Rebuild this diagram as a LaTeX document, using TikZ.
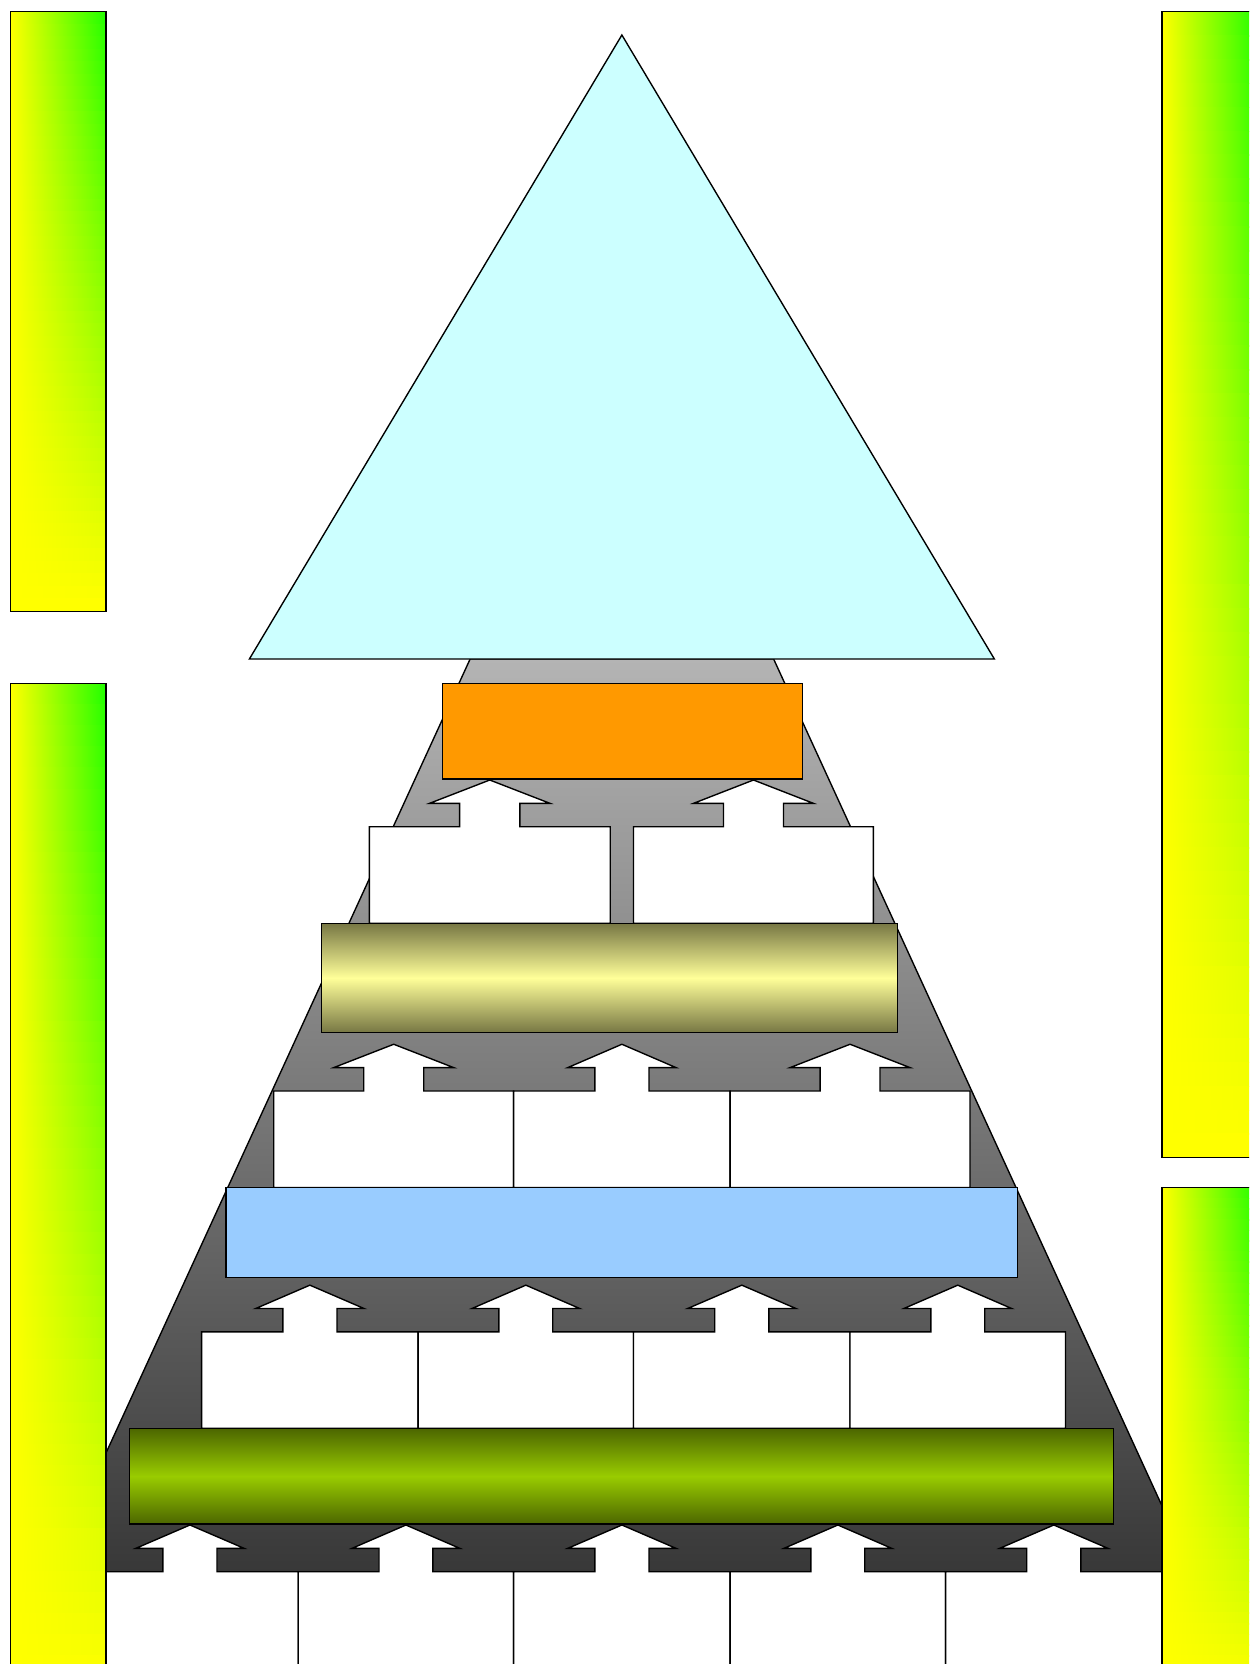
\documentclass[tikz,border=0pt]{standalone}
\definecolor{cyanT}{HTML}{CCFFFF}
\definecolor{orangeB}{HTML}{FF9900}
\definecolor{blueB}{HTML}{99CCFF}
\definecolor{yelDark}{HTML}{777744}
\definecolor{yelLight}{HTML}{FFFF99}
\definecolor{grnDark}{HTML}{4C6600}
\definecolor{grnLight}{HTML}{99CC00}
\definecolor{grayTop}{HTML}{B4B4B4}
\definecolor{grayBot}{HTML}{383838}
\definecolor{barGreen}{HTML}{22FF00}
\tikzset{
  outl/.style={draw=black, line width=1.3pt, line join=miter},
  boxst/.style={outl, fill=white},
}
\newcommand\arrowbox[4]{% L R T B
  \pgfmathsetmacro\cx{(#1+#2)/2}
  \pgfmathsetmacro\sw{(#2-#1)/8}
  \pgfmathsetmacro\hw{(#2-#1)/4}
  \draw[boxst] (#1,#4) -- (#1,#3) -- ({\cx-\sw},#3) -- ({\cx-\sw},{#3-22})
    -- ({\cx-\hw},{#3-22}) -- (\cx,{#3-44}) -- ({\cx+\hw},{#3-22})
    -- ({\cx+\sw},{#3-22}) -- ({\cx+\sw},#3) -- (#2,#3) -- (#2,#4) -- cycle;
}
\newcommand\gradbar[4]{% x1 y1 x2 y2
  \pgfmathsetmacro\stp{(#4-#2)/48}
  \begin{scope}
    \clip (#1,#2) rectangle (#3,#4);
    \foreach \i in {0,...,47} {
      \pgfmathsetmacro\ya{#2+\stp*\i}
      \pgfmathsetmacro\yb{\ya+\stp+0.6}
      \pgfmathtruncatemacro\pc{100-100*\i/47}
      \shade[left color=yellow, right color=barGreen!\pc!yellow] (#1,\ya) rectangle (#3,\yb);
    }
  \end{scope}
  \draw[outl] (#1,#2) rectangle (#3,#4);
}
\begin{document}
\begin{tikzpicture}[x=1pt, y=-1pt]
\useasboundingbox (0,0) rectangle (1177,1568);
\clip (0,0) rectangle (1177,1568);
\fill[white] (0,0) rectangle (1177,1568);
% gray trapezoid
\shade[top color=grayTop, bottom color=grayBot, draw=black, line width=1.3pt]
  (443,621) -- (729,621) -- (1123.4,1481) -- (48.6,1481) -- cycle;
% triangle
\draw[outl, fill=cyanT] (586,33) -- (937,621) -- (235,621) -- cycle;
% level 1 boxes
\arrowbox{348}{575}{779}{870}
\arrowbox{597}{823}{779}{870}
% level 2 boxes
\arrowbox{258}{484}{1028}{1119}
\arrowbox{484}{688}{1028}{1119}
\arrowbox{688}{914}{1028}{1119}
% level 3 boxes
\arrowbox{190}{394}{1255}{1346}
\arrowbox{394}{597}{1255}{1346}
\arrowbox{597}{801}{1255}{1346}
\arrowbox{801}{1004}{1255}{1346}
% level 4 boxes
\arrowbox{77}{281}{1481}{1620}
\arrowbox{281}{484}{1481}{1620}
\arrowbox{484}{688}{1481}{1620}
\arrowbox{688}{891}{1481}{1620}
\arrowbox{891}{1095}{1481}{1620}
% bars
\draw[outl, fill=orangeB] (417,644) rectangle (756,734);
\shade[top color=yelDark, bottom color=yelDark, middle color=yelLight, draw=black, line width=1.3pt]
  (303,870) rectangle (846,973);
\draw[outl, fill=blueB] (213,1119) rectangle (959,1204);
\shade[top color=grnDark, bottom color=grnDark, middle color=grnLight, draw=black, line width=1.3pt]
  (122,1346) rectangle (1049,1436);
% side gradient bars
\gradbar{10}{11}{100}{576}
\gradbar{10}{644}{100}{1600}
\gradbar{1095}{11}{1185}{1091}
\gradbar{1095}{1119}{1185}{1600}
\end{tikzpicture}
\end{document}
